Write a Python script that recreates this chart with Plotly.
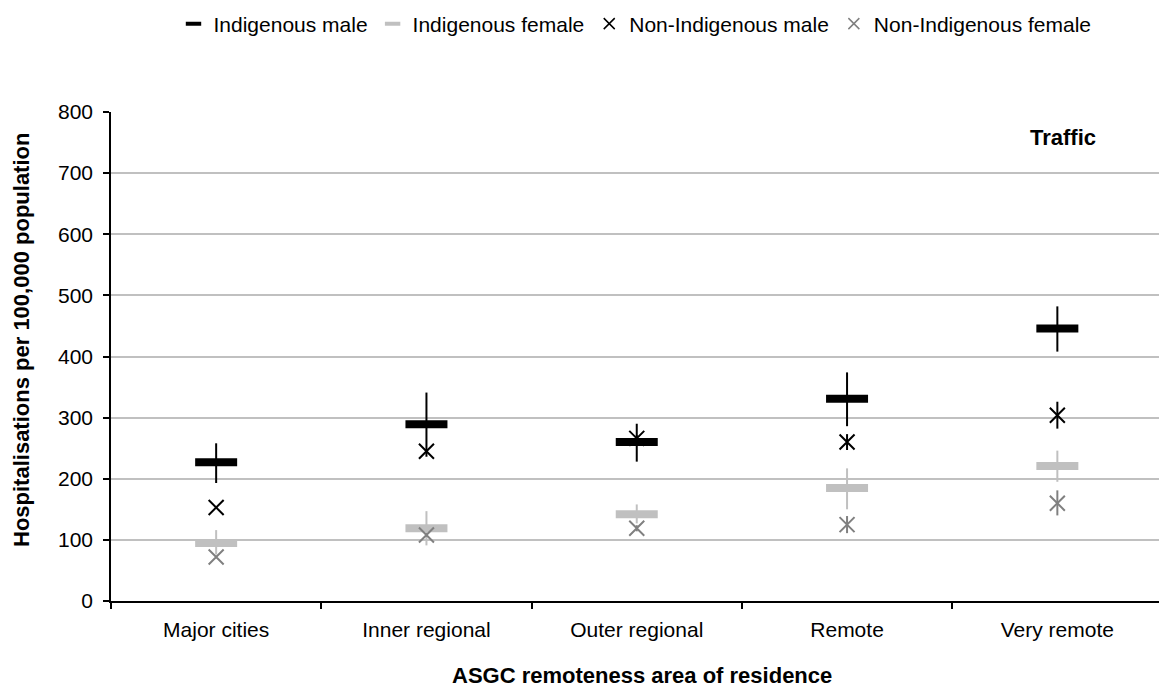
import plotly.graph_objects as go

# Remoteness areas (ASGC)
categories = ["Major cities", "Inner regional", "Outer regional", "Remote", "Very remote"]

# Hospitalisation rates per 100,000 population, with 95% confidence limits
indig_male = [227, 289, 260, 331, 446]
indig_male_lo = [193, 236, 228, 286, 408]
indig_male_hi = [258, 341, 290, 374, 482]

indig_female = [95, 119, 142, 185, 221]
indig_female_lo = [76, 91, 127, 150, 195]
indig_female_hi = [116, 147, 158, 217, 246]

nonindig_male = [153, 245, 266, 260, 304]
nonindig_male_lo = [151, 242, 261, 247, 282]
nonindig_male_hi = [155, 248, 271, 273, 326]

nonindig_female = [72, 108, 119, 125, 160]
nonindig_female_lo = [70, 105, 114, 111, 140]
nonindig_female_hi = [74, 111, 124, 139, 181]

FONT = "Liberation Sans, Arial, sans-serif"

W, H = 1159, 690
ML, MR, MT, MB = 111, 0, 112, 89
PW, PH = W - ML - MR, H - MT - MB


def px_x(x):
    return (x - ML) / PW


def px_y(y):
    return (H - MB - y) / PH


def err(vals, lo, hi, color):
    return dict(
        type="data",
        symmetric=False,
        array=[h - v for v, h in zip(vals, hi)],
        arrayminus=[v - l for v, l in zip(vals, lo)],
        width=0,
        thickness=2,
        color=color,
    )


series = [
    ("Indigenous male", indig_male, indig_male_lo, indig_male_hi, "line-ew", "#000000"),
    ("Indigenous female", indig_female, indig_female_lo, indig_female_hi, "line-ew", "#c0c0c0"),
    ("Non-Indigenous male", nonindig_male, nonindig_male_lo, nonindig_male_hi, "x-thin", "#000000"),
    ("Non-Indigenous female", nonindig_female, nonindig_female_lo, nonindig_female_hi, "x-thin", "#808080"),
]

fig = go.Figure()

for name, vals, lo, hi, sym, col in series:
    is_bar = sym == "line-ew"
    # plotted marks
    fig.add_trace(go.Scatter(
        x=categories, y=vals, mode="markers", name=name,
        legendgroup=name, showlegend=False,
        marker=dict(symbol=sym, size=30 if is_bar else 15, color=col,
                    line=dict(color=col, width=8 if is_bar else 2)),
        error_y=err(vals, lo, hi, col),
    ))
    # compact legend key
    fig.add_trace(go.Scatter(
        x=[None], y=[None], mode="markers", name=name,
        legendgroup=name, showlegend=True,
        marker=dict(symbol=sym, size=11, color=col,
                    line=dict(color=col, width=4 if is_bar else 1.5)),
    ))

fig.update_layout(
    width=W, height=H,
    margin=dict(l=ML, r=MR, t=MT, b=MB, pad=0),
    paper_bgcolor="white", plot_bgcolor="white",
    font=dict(family=FONT, size=21, color="#000000"),
    showlegend=True,
    legend=dict(
        orientation="h", x=0.5, xanchor="center", y=px_y(24), yanchor="middle",
        font=dict(family=FONT, size=21, color="#000000"),
        bgcolor="rgba(0,0,0,0)", itemclick=False, itemwidth=30,
    ),
    xaxis=dict(
        type="category", range=[-0.5, -0.5 + PW / 210.3],
        showgrid=False, zeroline=False,
        showline=True, linecolor="#000000", linewidth=1.5,
        tickson="boundaries", ticks="outside", ticklen=6, tickwidth=1.5,
        tickcolor="#000000",
        tickfont=dict(family=FONT, size=21, color="#000000"),
        ticklabelstandoff=9,
    ),
    yaxis=dict(
        range=[0, 800], tickvals=[0, 100, 200, 300, 400, 500, 600, 700, 800],
        showgrid=True, gridcolor="#c0c0c0", gridwidth=1.5,
        zeroline=False,
        showline=True, linecolor="#000000", linewidth=1.5,
        ticks="outside", ticklen=6, tickwidth=1.5, tickcolor="#000000",
        tickfont=dict(family=FONT, size=21, color="#000000"),
        ticklabelstandoff=6,
    ),
    annotations=[
        dict(text="<b>Traffic</b>", x=px_x(1063), y=px_y(138), xref="paper", yref="paper",
             xanchor="center", yanchor="middle", showarrow=False,
             font=dict(family=FONT, size=22, color="#000000")),
        dict(text="<b>Hospitalisations per 100,000 population</b>", textangle=-90,
             x=px_x(21), y=px_y(340), xref="paper", yref="paper",
             xanchor="center", yanchor="middle", showarrow=False,
             font=dict(family=FONT, size=22, color="#000000")),
        dict(text="<b>ASGC remoteness area of residence</b>",
             x=px_x(642), y=px_y(675), xref="paper", yref="paper",
             xanchor="center", yanchor="middle", showarrow=False,
             font=dict(family=FONT, size=22, color="#000000")),
    ],
)

fig.write_html("out.html")
